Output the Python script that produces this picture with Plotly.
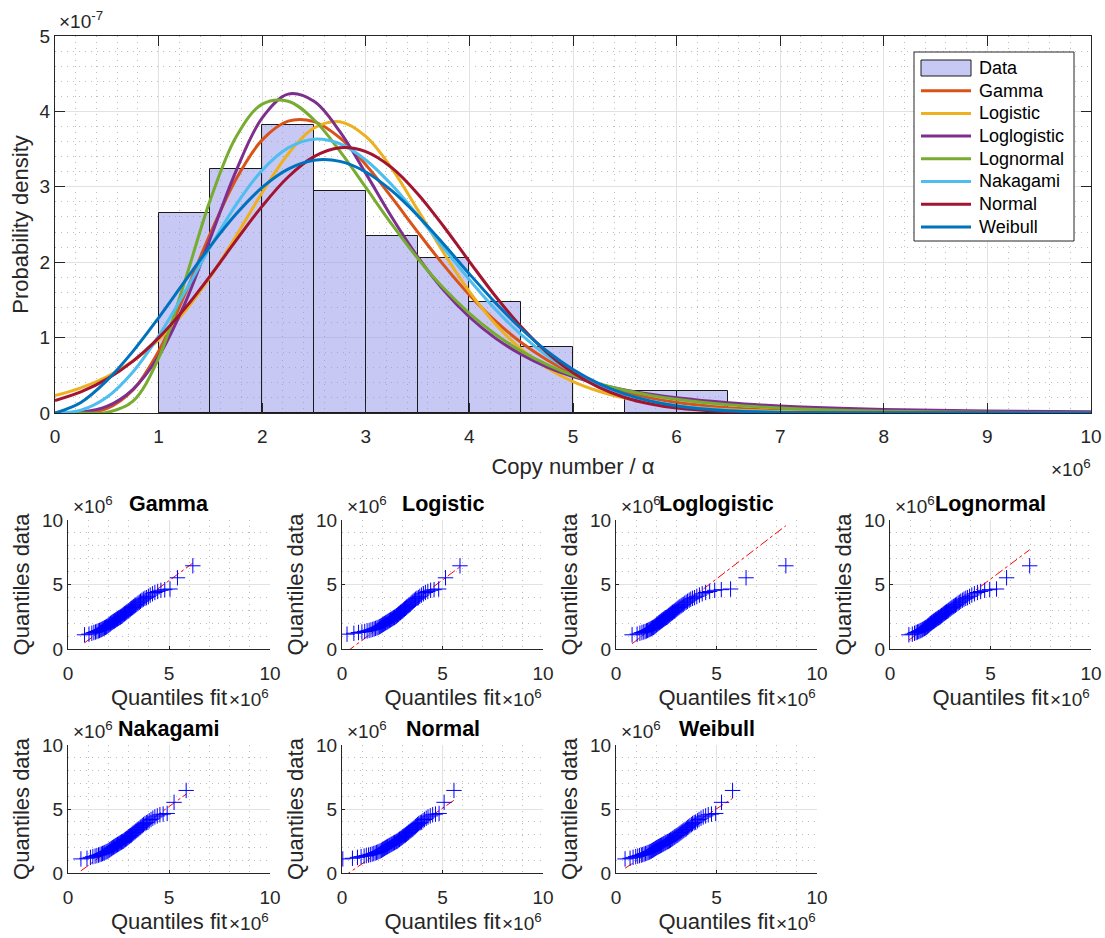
import plotly.graph_objects as go

# ------------------------------------------------------------------ data
# Top panel: histogram of copy number (x in units of 1e6, density in units of 1e-7)
bin_left = [1.0, 1.5, 2.0, 2.5, 3.0, 3.5, 4.0, 4.5, 5.0, 5.5, 6.0]
bin_width = 0.5
bin_density = [2.65, 3.24, 3.82, 2.94, 2.35, 2.06, 1.47, 0.88, 0.0, 0.29, 0.29]

# fitted pdf curves
pdf_x = [0, 0.25, 0.5, 0.75, 1.0, 1.25, 1.5, 1.75, 2.0, 2.25, 2.5, 2.75, 3.0, 3.25, 3.5, 3.75,
         4.0, 4.25, 4.5, 4.75, 5.0, 5.25, 5.5, 5.75, 6.0, 6.5, 7.0, 7.5, 8.0, 9.0, 10.0]
pdf_gamma = [0, 0.002, 0.058, 0.301, 0.819, 1.563, 2.381, 3.108, 3.622, 3.871, 3.864, 3.649, 3.292,
             2.859, 2.403, 1.964, 1.566, 1.222, 0.935, 0.704, 0.522, 0.382, 0.276, 0.197, 0.139,
             0.068, 0.032, 0.014, 0.006, 0.001, 0.0]
pdf_logistic = [0.230, 0.334, 0.481, 0.687, 0.969, 1.341, 1.807, 2.351, 2.924, 3.436, 3.779, 3.864,
                3.669, 3.245, 2.697, 2.128, 1.610, 1.181, 0.847, 0.597, 0.416, 0.288, 0.198, 0.136,
                0.093, 0.043, 0.020, 0.009, 0.004, 0.001, 0.0]
pdf_loglogistic = [0, 0.010, 0.087, 0.311, 0.752, 1.440, 2.319, 3.219, 3.914, 4.229, 4.134, 3.732,
                   3.178, 2.599, 2.073, 1.630, 1.273, 0.993, 0.777, 0.610, 0.482, 0.383, 0.307,
                   0.248, 0.201, 0.135, 0.093, 0.066, 0.048, 0.026, 0.015]
pdf_lognormal = [0, 0.0, 0.007, 0.154, 0.728, 1.735, 2.830, 3.668, 4.097, 4.135, 3.889, 3.474, 2.991,
                 2.504, 2.053, 1.657, 1.322, 1.045, 0.821, 0.642, 0.500, 0.389, 0.302, 0.234, 0.181,
                 0.109, 0.066, 0.040, 0.024, 0.009, 0.004]
pdf_nakagami = [0, 0.038, 0.209, 0.541, 1.020, 1.597, 2.204, 2.767, 3.220, 3.516, 3.632, 3.571, 3.356,
                3.026, 2.623, 2.191, 1.766, 1.376, 1.038, 0.758, 0.536, 0.368, 0.245, 0.159, 0.100,
                0.036, 0.012, 0.003, 0.001, 0.0, 0.0]
pdf_normal = [0.166, 0.280, 0.449, 0.685, 0.997, 1.381, 1.823, 2.292, 2.744, 3.130, 3.400, 3.518,
              3.466, 3.254, 2.909, 2.477, 2.009, 1.552, 1.143, 0.801, 0.534, 0.340, 0.206, 0.119,
              0.065, 0.017, 0.004, 0.001, 0.0, 0.0, 0.0]
pdf_weibull = [0, 0.140, 0.429, 0.814, 1.263, 1.742, 2.214, 2.641, 2.991, 3.234, 3.351, 3.337, 3.197,
               2.948, 2.619, 2.241, 1.845, 1.464, 1.117, 0.819, 0.578, 0.391, 0.254, 0.158, 0.094,
               0.029, 0.008, 0.002, 0.0, 0.0, 0.0]

dist_names = ["Gamma", "Logistic", "Loglogistic", "Lognormal", "Nakagami", "Normal", "Weibull"]
dist_colors = ["#D95319", "#EDB120", "#7E2F8E", "#77AC30", "#4DBEEE", "#A2142F", "#0072BD"]
pdf_values = [pdf_gamma, pdf_logistic, pdf_loglogistic, pdf_lognormal, pdf_nakagami, pdf_normal, pdf_weibull]

# QQ plots: sorted data quantiles (units of 1e6), shared by all panels
data_quantiles = [1.10, 1.15, 1.22, 1.28, 1.32, 1.36, 1.40, 1.44, 1.48,
                  1.52, 1.56, 1.60, 1.64, 1.68, 1.72, 1.77, 1.82, 1.87, 1.92, 1.97,
                  2.02, 2.06, 2.10, 2.14, 2.18, 2.22, 2.26, 2.30, 2.34, 2.38, 2.42, 2.45, 2.48,
                  2.53, 2.58, 2.63, 2.68, 2.73, 2.78, 2.83, 2.88, 2.93, 2.97,
                  3.04, 3.10, 3.16, 3.22, 3.28, 3.34, 3.40, 3.46,
                  3.55, 3.62, 3.70, 3.78, 3.86, 3.93, 3.98,
                  4.08, 4.18, 4.28, 4.38, 4.46,
                  4.55, 4.60, 4.65,
                  5.52, 6.45]

fit_gamma = [0.82, 1.04, 1.18, 1.28, 1.36, 1.43, 1.50, 1.56, 1.62, 1.67, 1.72, 1.77, 1.81, 1.86, 1.90,
             1.94, 1.99, 2.03, 2.07, 2.11, 2.14, 2.18, 2.22, 2.26, 2.30, 2.34, 2.37, 2.41, 2.45, 2.49,
             2.52, 2.56, 2.60, 2.64,
             2.68, 2.72, 2.76, 2.80, 2.84, 2.88, 2.92, 2.97, 3.01, 3.06, 3.10, 3.15, 3.20, 3.25, 3.30,
             3.35, 3.41, 3.47, 3.53, 3.59, 3.66, 3.73, 3.81, 3.89, 3.98, 4.07, 4.18, 4.30, 4.44, 4.60,
             4.79, 5.05, 5.42, 6.18]
fit_logistic = [-0.47, 0.25, 0.59, 0.82, 0.99, 1.13, 1.25, 1.35, 1.44, 1.53, 1.60, 1.67, 1.74, 1.80,
                1.86, 1.91, 1.97, 2.02, 2.06, 2.11, 2.16, 2.20, 2.25, 2.29, 2.33, 2.37, 2.41, 2.45,
                2.49, 2.53, 2.57, 2.61, 2.64, 2.68,
                2.72, 2.76, 2.80, 2.83, 2.87, 2.91, 2.95, 2.99, 3.03, 3.07, 3.11, 3.16, 3.20, 3.24,
                3.29, 3.34, 3.39, 3.44, 3.49, 3.54, 3.60, 3.66, 3.73, 3.80, 3.87, 3.96, 4.05, 4.15,
                4.27, 4.41, 4.58, 4.81, 5.15, 5.87]
fit_loglogistic = [0.80, 1.05, 1.19, 1.29, 1.38, 1.45, 1.52, 1.57, 1.63, 1.68, 1.73, 1.77, 1.82, 1.86,
                   1.90, 1.94, 1.98, 2.02, 2.05, 2.09, 2.13, 2.16, 2.20, 2.23, 2.27, 2.30, 2.33, 2.37,
                   2.40, 2.44, 2.47, 2.51, 2.55, 2.58,
                   2.62, 2.65, 2.69, 2.73, 2.77, 2.81, 2.85, 2.90, 2.94, 2.98, 3.03, 3.08, 3.13, 3.18,
                   3.24, 3.29, 3.35, 3.42, 3.49, 3.56, 3.64, 3.72, 3.81, 3.91, 4.02, 4.15, 4.29, 4.46,
                   4.66, 4.91, 5.24, 5.70, 6.47, 8.45]
fit_lognormal = [0.94, 1.11, 1.22, 1.30, 1.37, 1.43, 1.49, 1.54, 1.59, 1.63, 1.68, 1.72, 1.76, 1.80,
                 1.84, 1.87, 1.91, 1.95, 1.98, 2.02, 2.06, 2.09, 2.13, 2.16, 2.20, 2.23, 2.27, 2.30,
                 2.34, 2.38, 2.41, 2.45, 2.49, 2.52,
                 2.56, 2.60, 2.64, 2.68, 2.72, 2.76, 2.81, 2.85, 2.90, 2.94, 2.99, 3.04, 3.09, 3.15,
                 3.20, 3.26, 3.32, 3.39, 3.45, 3.52, 3.60, 3.68, 3.77, 3.86, 3.96, 4.07, 4.20, 4.35,
                 4.51, 4.71, 4.96, 5.30, 5.80, 6.95]
fit_nakagami = [0.64, 0.94, 1.11, 1.23, 1.34, 1.43, 1.51, 1.58, 1.65, 1.71, 1.77, 1.82, 1.88, 1.93,
                1.98, 2.03, 2.07, 2.12, 2.16, 2.21, 2.25, 2.29, 2.33, 2.37, 2.41, 2.45, 2.49, 2.53,
                2.57, 2.61, 2.65, 2.69, 2.73, 2.77,
                2.81, 2.85, 2.89, 2.93, 2.97, 3.01, 3.05, 3.09, 3.14, 3.18, 3.22, 3.27, 3.32, 3.36,
                3.41, 3.46, 3.51, 3.57, 3.62, 3.68, 3.74, 3.81, 3.88, 3.95, 4.02, 4.11, 4.20, 4.30,
                4.42, 4.55, 4.71, 4.91, 5.25, 5.85]
fit_normal = [0.04, 0.52, 0.77, 0.95, 1.10, 1.21, 1.32, 1.41, 1.50, 1.58, 1.65, 1.72, 1.78, 1.84,
              1.90, 1.96, 2.01, 2.06, 2.11, 2.16, 2.21, 2.26, 2.30, 2.35, 2.39, 2.44, 2.48, 2.53,
              2.57, 2.61, 2.65, 2.70, 2.74, 2.78,
              2.82, 2.86, 2.90, 2.95, 2.99, 3.03, 3.07, 3.12, 3.16, 3.21, 3.25, 3.30, 3.34, 3.39,
              3.44, 3.49, 3.54, 3.59, 3.65, 3.70, 3.76, 3.82, 3.89, 3.95, 4.03, 4.10, 4.19, 4.28,
              4.39, 4.51, 4.65, 4.83, 5.08, 5.57]
fit_weibull = [0.45, 0.70, 0.85, 0.98, 1.08, 1.17, 1.26, 1.33, 1.40, 1.47, 1.54, 1.60, 1.66, 1.71,
               1.77, 1.82, 1.87, 1.92, 1.97, 2.02, 2.07, 2.12, 2.17, 2.21, 2.26, 2.30, 2.35, 2.39,
               2.44, 2.48, 2.53, 2.57, 2.62, 2.66, 2.71, 2.75, 2.80, 2.84, 2.89, 2.93, 2.98, 3.03,
               3.08, 3.13, 3.18, 3.23, 3.28, 3.33, 3.38, 3.44, 3.50, 3.55, 3.62, 3.68, 3.75, 3.81,
               3.89, 3.96, 4.05, 4.13, 4.23, 4.34, 4.46, 4.59, 4.75, 4.96, 5.25, 5.80]
fit_quantiles = [fit_gamma, fit_logistic, fit_loglogistic, fit_lognormal, fit_nakagami, fit_normal, fit_weibull]

# reference lines: quartile pair (solid) and extended line end points (dash-dot)
qq_quartile_x = [(2.005, 3.44), (1.995, 3.415), (2.00, 3.385), (1.93, 3.355), (2.095, 3.54), (2.035, 3.565), (1.90, 3.525)]
qq_quartile_y = (1.845, 3.505)
qq_line_x = [(0.82, 6.18), (-0.47, 5.87), (0.80, 8.45), (0.94, 6.95), (0.64, 5.85), (0.04, 5.57), (0.45, 5.80)]
qq_line_y = [(0.48, 6.66), (-1.04, 6.37), (0.41, 9.56), (0.69, 7.69), (0.17, 6.16), (-0.32, 5.68), (0.37, 5.83)]

# ------------------------------------------------------------------ layout helpers
W, H = 1105, 938
FONT = "Liberation Sans"
AXC = "#262626"
TICK = 19
LAB = 22
TITLE = 21.5
BAR_FILL = "rgba(145,145,235,0.5)"
BAR_EDGE = "#1a1a1a"


def px(x):
    return x / W


def py(y):
    return 1 - y / H


def dx(a, b):
    return [a / W, b / W]


def dy(top, bottom):
    return [1 - bottom / H, 1 - top / H]


def axis(domain, rng, dtick, minor_dtick, ticklen, mirror, title=None, standoff=None,
         tickvals=None, labelpad=0):
    d = dict(domain=domain, range=rng, showline=True, linecolor=AXC, linewidth=1,
             mirror=mirror, ticks="inside", ticklen=ticklen, tickcolor=AXC, tickwidth=1,
             tickfont=dict(family=FONT, size=TICK, color=AXC), ticklabelstandoff=labelpad,
             showgrid=True, gridcolor="#e2e2e2", gridwidth=1, zeroline=False,
             minor=dict(dtick=minor_dtick, showgrid=True, gridcolor="#bdbdbd", gridwidth=1,
                        griddash="1px,5px", ticks=""),
             automargin=False, fixedrange=True)
    if tickvals is not None:
        d["tickmode"] = "array"
        d["tickvals"] = tickvals
    else:
        d["dtick"] = dtick
        d["tick0"] = 0
    if title is not None:
        d["title"] = dict(text=title, font=dict(family=FONT, size=LAB, color=AXC),
                          standoff=standoff)
    return d


fig = go.Figure()

# ------------------------------------------------------------------ top panel
fig.add_trace(go.Bar(x=bin_left, y=bin_density, width=bin_width, offset=0, name="Data",
                     marker=dict(color=BAR_FILL, line=dict(color=BAR_EDGE, width=1)),
                     xaxis="x", yaxis="y"))
for name, col, vals in zip(dist_names, dist_colors, pdf_values):
    fig.add_trace(go.Scatter(x=pdf_x, y=vals, mode="lines", name=name,
                             line=dict(color=col, width=3, shape="spline", smoothing=1.0),
                             xaxis="x", yaxis="y"))

layout = dict(
    width=W, height=H, margin=dict(l=0, r=0, t=0, b=0, pad=0), autosize=False,
    paper_bgcolor="white", plot_bgcolor="white", bargap=0,
    font=dict(family=FONT, color=AXC),
    showlegend=False,
)
layout["xaxis"] = axis(dx(55, 1091), [0, 10], 1, 0.2, 10, "ticks", "Copy number / α", 12, labelpad=6)
layout["yaxis"] = axis(dy(36, 413), [0, 5], 1, 0.2, 10, "ticks", "Probability density", 4)

annotations = [
    dict(text="×10<sup>-7</sup>", x=px(57), y=py(34), xref="paper", yref="paper",
         xanchor="left", yanchor="bottom", showarrow=False,
         font=dict(family=FONT, size=TICK, color=AXC)),
    dict(text="×10<sup>6</sup>", x=px(1093), y=py(468), xref="paper", yref="paper",
         xanchor="right", yanchor="middle", showarrow=False,
         font=dict(family=FONT, size=TICK, color=AXC)),
]
shapes = []

# legend box (MATLAB style), drawn above the curves
leg_left, leg_top, leg_right, leg_bottom = 914, 52, 1074, 241
sym_x0, sym_x1, text_x = 921, 971, 977
row_y0, row_step = 68, 22.7
shapes.append(dict(type="rect", xref="paper", yref="paper", layer="above",
                   x0=px(leg_left), x1=px(leg_right), y0=py(leg_bottom), y1=py(leg_top),
                   fillcolor="white", line=dict(color=AXC, width=1)))
legend_labels = ["Data"] + dist_names
for i, lab in enumerate(legend_labels):
    yc = row_y0 + i * row_step
    if i == 0:
        shapes.append(dict(type="rect", xref="paper", yref="paper", layer="above",
                           x0=px(sym_x0), x1=px(sym_x1), y0=py(yc + 8), y1=py(yc - 8),
                           fillcolor=BAR_FILL, line=dict(color=BAR_EDGE, width=1)))
    else:
        shapes.append(dict(type="line", xref="paper", yref="paper", layer="above",
                           x0=px(sym_x0), x1=px(sym_x1), y0=py(yc), y1=py(yc),
                           line=dict(color=dist_colors[i - 1], width=3)))
    annotations.append(dict(text=lab, x=px(text_x), y=py(yc), xref="paper", yref="paper",
                            xanchor="left", yanchor="middle", showarrow=False,
                            font=dict(family=FONT, size=18, color="black")))

# ------------------------------------------------------------------ QQ panels
cols = [(68, 270), (342, 543), (616, 817), (890, 1091)]
rows = [(520, 649), (745, 873)]
positions = [(0, 0), (0, 1), (0, 2), (0, 3), (1, 0), (1, 1), (1, 2)]

for k, (name, fitq) in enumerate(zip(dist_names, fit_quantiles)):
    n = k + 2
    xa, ya = f"x{n}", f"y{n}"
    r, c = positions[k]
    (l, rgt), (top, bot) = cols[c], rows[r]
    layout[f"xaxis{n}"] = axis(dx(l, rgt), [0, 10], None, 1, 3, False, "Quantiles fit", 6,
                               tickvals=[0, 5, 10], labelpad=7)
    layout[f"xaxis{n}"]["anchor"] = ya
    layout[f"yaxis{n}"] = axis(dy(top, bot), [0, 10], None, 1, 3, False, "Quantiles data", 6,
                               tickvals=[0, 5, 10])
    layout[f"yaxis{n}"]["anchor"] = xa

    fig.add_trace(go.Scatter(x=list(qq_quartile_x[k]), y=list(qq_quartile_y), mode="lines",
                             showlegend=False, line=dict(color="#ff0000", width=1),
                             xaxis=xa, yaxis=ya))
    fig.add_trace(go.Scatter(x=list(qq_line_x[k]), y=list(qq_line_y[k]), mode="lines",
                             showlegend=False, line=dict(color="#ff0000", width=1, dash="dashdot"),
                             xaxis=xa, yaxis=ya))
    fig.add_trace(go.Scatter(x=fitq, y=data_quantiles, mode="markers", showlegend=False,
                             marker=dict(symbol="cross-thin", size=11, color="#0000ff",
                                         line=dict(color="#0000ff", width=1)),
                             xaxis=xa, yaxis=ya))

    annotations.append(dict(text=f"<b>{name}</b>", x=(l + rgt) / 2 / W, y=py(top - 2),
                            xref="paper", yref="paper", xanchor="center", yanchor="bottom",
                            showarrow=False, font=dict(family=FONT, size=TITLE, color="black")))
    annotations.append(dict(text="×10<sup>6</sup>", x=px(l + 3), y=py(top - 1),
                            xref="paper", yref="paper", xanchor="left", yanchor="bottom",
                            showarrow=False, font=dict(family=FONT, size=TICK, color=AXC)))
    annotations.append(dict(text="×10<sup>6</sup>", x=px(rgt + 1), y=py(bot + 49),
                            xref="paper", yref="paper", xanchor="right", yanchor="middle",
                            showarrow=False, font=dict(family=FONT, size=TICK, color=AXC)))

layout["annotations"] = annotations
layout["shapes"] = shapes
fig.update_layout(**layout)
fig.write_html("out.html")
